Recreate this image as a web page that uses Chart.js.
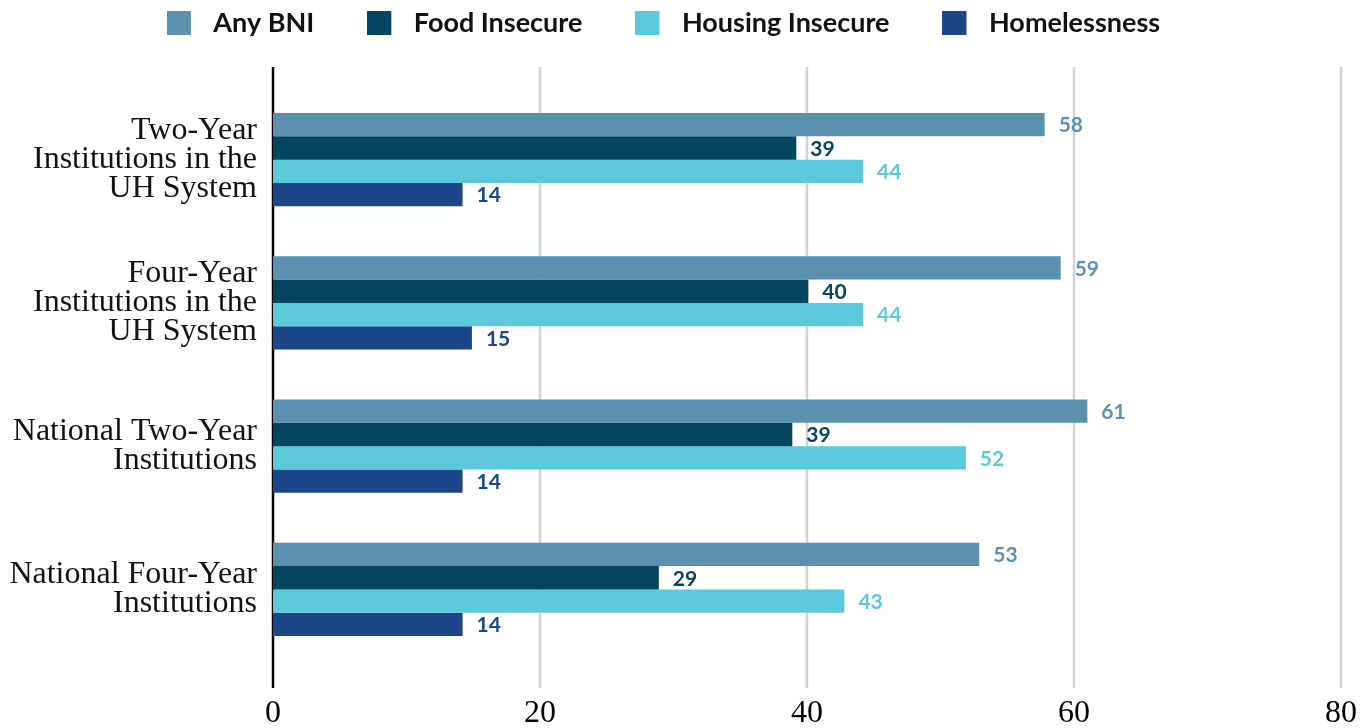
<!DOCTYPE html>
<html>
<head>
<meta charset="utf-8">
<script src="https://cdn.jsdelivr.net/npm/chart.js@4.4.1/dist/chart.umd.min.js"></script>
<style>
  html, body { margin: 0; padding: 0; background: #ffffff; }
  #wrap { width: 1372px; height: 728px; }
</style>
</head>
<body>
<div id="wrap"><canvas id="c" width="1372" height="728"></canvas></div>
<script>
const categories = [
  ["Two-Year", "Institutions in the", "UH System"],
  ["Four-Year", "Institutions in the", "UH System"],
  ["National Two-Year", "Institutions"],
  ["National Four-Year", "Institutions"]
];
const seriesNames = ["Any BNI", "Food Insecure", "Housing Insecure", "Homelessness"];
const anyBNI = [57.8, 59.0, 61.0, 52.9];
const foodInsecure = [39.2, 40.1, 38.9, 28.9];
const housingInsecure = [44.2, 44.2, 51.9, 42.8];
const homelessness = [14.2, 14.9, 14.2, 14.2];
const xTicks = [0, 20, 40, 60, 80];
const colors = ["#5B91AF", "#03445E", "#5BC8DB", "#1B4688"];

const seriesValues = [anyBNI, foodInsecure, housingInsecure, homelessness];

function makeMarker(color) {
  const c = document.createElement('canvas');
  c.width = 33; c.height = 24;
  const g = c.getContext('2d');
  g.fillStyle = color;
  g.fillRect(0, 0, 24, 24);
  return c;
}
const markers = colors.map(makeMarker);

const gridPlugin = {
  id: 'extGrid',
  beforeDatasetsDraw(chart) {
    const { ctx, chartArea, scales } = chart;
    const xs = scales.x;
    const top = chartArea.top - 21;
    const bottom = chartArea.bottom + 27;
    ctx.save();
    xTicks.forEach(v => {
      const px = Math.round(xs.getPixelForValue(v));
      ctx.beginPath();
      ctx.strokeStyle = v === 0 ? '#000000' : '#d2d2d2';
      ctx.lineWidth = 2.5;
      ctx.moveTo(px, top);
      ctx.lineTo(px, bottom);
      ctx.stroke();
    });
    ctx.restore();
  }
};

const labelPlugin = {
  id: 'barLabels',
  afterDatasetsDraw(chart) {
    const { ctx } = chart;
    ctx.save();
    ctx.font = 'bold 21px Lato';
    ctx.textAlign = 'left';
    ctx.textBaseline = 'middle';
    chart.data.datasets.forEach((ds, di) => {
      const meta = chart.getDatasetMeta(di);
      meta.data.forEach((bar, i) => {
        ctx.fillStyle = colors[di];
        ctx.fillText(String(Math.round(ds.data[i])), bar.x + 14, bar.y + 1);
      });
    });
    ctx.restore();
  }
};

new Chart(document.getElementById('c'), {
  type: 'bar',
  data: {
    labels: categories,
    datasets: seriesNames.map((name, i) => ({
      label: name,
      data: seriesValues[i],
      backgroundColor: colors[i],
      borderWidth: 0,
      categoryPercentage: 0.65,
      barPercentage: 1.0
    }))
  },
  options: {
    indexAxis: 'y',
    responsive: false,
    animation: false,
    devicePixelRatio: 1,
    layout: { padding: { left: -14, right: 31, top: -43.5, bottom: 0 } },
    plugins: {
      legend: {
        position: 'top',
        align: 'center',
        labels: {
          usePointStyle: true,
          pointStyleWidth: 33,
          boxHeight: 24,
          padding: 53,
          color: '#111111',
          font: { family: 'Lato', size: 27, weight: 'bold' },
          generateLabels(chart) {
            const items = Chart.defaults.plugins.legend.labels.generateLabels(chart);
            items.forEach((it, i) => { it.pointStyle = markers[i]; });
            return items;
          }
        }
      },
      tooltip: { enabled: false }
    },
    scales: {
      x: {
        type: 'linear',
        min: 0,
        max: 80,
        afterBuildTicks(scale) { scale.ticks = xTicks.map(v => ({ value: v })); },
        afterFit(scale) { scale.height = 67; scale.paddingLeft = 0; scale.paddingRight = 0; },
        grid: { display: false, drawTicks: true, tickLength: 27 },
        border: { display: false },
        ticks: {
          padding: 6,
          color: '#000000',
          font: { family: 'Liberation Serif', size: 32 }
        }
      },
      xTop: {
        type: 'linear',
        axis: 'x',
        position: 'top',
        min: 0,
        max: 80,
        afterFit(scale) { scale.height = 41.5; scale.paddingLeft = 0; scale.paddingRight = 0; },
        grid: { display: false, drawTicks: false },
        border: { display: false },
        ticks: { display: false }
      },
      y: {
        afterFit(scale) { scale.width = 287; },
        grid: { display: false, drawTicks: false },
        border: { display: false },
        ticks: {
          padding: 16,
          color: '#111111',
          font: { family: 'Liberation Serif', size: 32, lineHeight: 0.9 }
        }
      }
    }
  },
  plugins: [gridPlugin, labelPlugin]
});
</script>
</body>
</html>
